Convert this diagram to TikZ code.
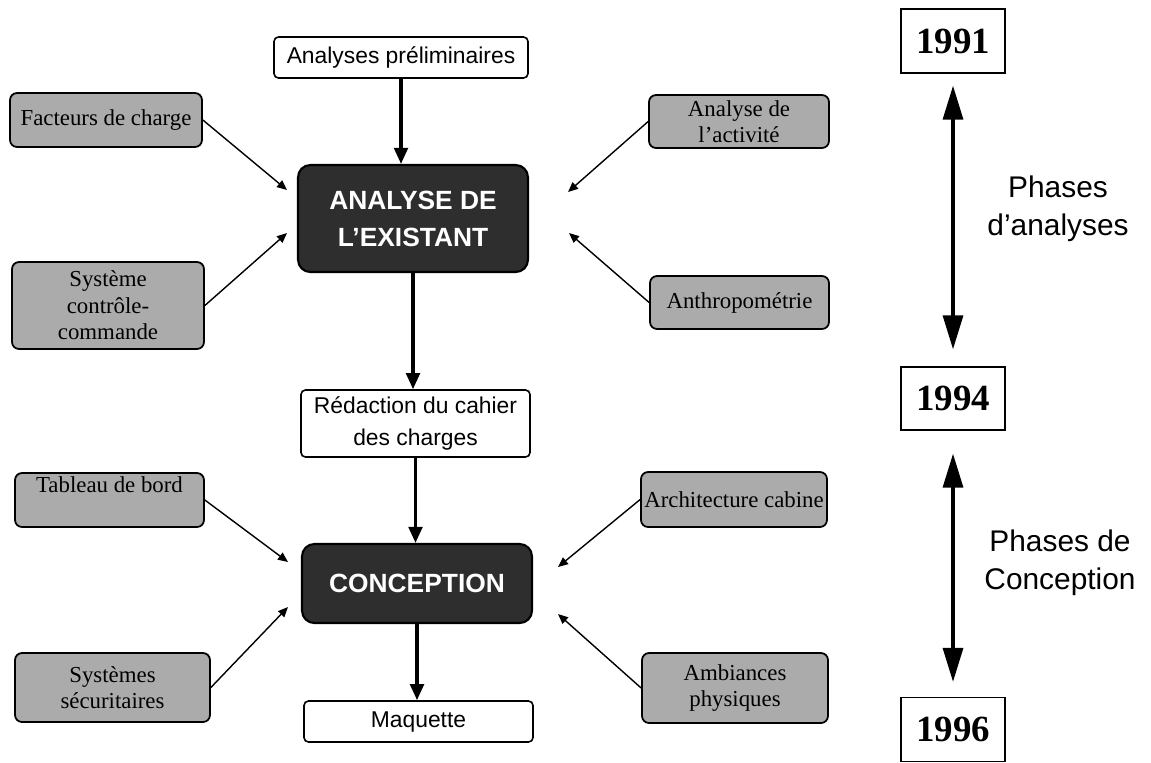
\documentclass[tikz,border=0pt]{standalone}
\usepackage{fontspec}
\setmainfont{Liberation Serif}
\setsansfont{Liberation Sans}
\usetikzlibrary{arrows.meta}

\begin{document}
\begin{tikzpicture}[x = 0.02cm, y = -0.02cm]
	\tikzstyle{whiteStyle} = [draw, line width = 0.9pt, fill = white, rounded corners = 2.5pt, inner sep = 0pt, align = center, font = \sffamily\fontsize{13}{18}\selectfont]
	\tikzstyle{darkStyle} = [draw, line width = 1.2pt, fill = black!82, rounded corners = 7pt, inner sep = 0pt, align = center, text = white, font = \sffamily\bfseries\fontsize{15}{21}\selectfont]
	\tikzstyle{grayStyle} = [draw, line width = 1pt, fill = black!33, rounded corners = 4pt, inner sep = 0pt, align = center, font = \rmfamily\fontsize{13}{15}\selectfont]
	\tikzstyle{yearStyle} = [draw, line width = 0.8pt, fill = white, inner sep = 0pt, minimum width = 2.08cm, minimum height = 1.28cm, font = \rmfamily\bfseries\fontsize{21}{24}\selectfont]
	\tikzstyle{phaseStyle} = [inner sep = 0pt, align = center, font = \sffamily\fontsize{17}{21.5}\selectfont]
	\tikzstyle{mainArrow} = [line width = 1.9pt, -{Triangle[length = 0.32cm, width = 0.27cm]}]
	\tikzstyle{sideArrow} = [line width = 0.8pt, -{Triangle[length = 0.2cm, width = 0.17cm]}]
	\tikzstyle{timeArrow} = [line width = 1.9pt, {Triangle[length = 0.68cm, width = 0.4cm]}-{Triangle[length = 0.68cm, width = 0.4cm]}]
	\useasboundingbox (0,0) rectangle (1151,762);
	% colonne centrale
	\node[whiteStyle, minimum width = 5.08cm, minimum height = 0.82cm] (prelim) at (401,57.5) {Analyses préliminaires};
	\node[darkStyle, minimum width = 4.6cm, minimum height = 2.14cm] (existant) at (413,218.5) {ANALYSE DE\\L’EXISTANT};
	\node[whiteStyle, minimum width = 4.58cm, minimum height = 1.34cm] (redaction) at (415.5,423.5) {Rédaction du cahier\\des charges};
	\node[darkStyle, minimum width = 4.6cm, minimum height = 1.58cm] (conception) at (417,583.5) {CONCEPTION};
	\node[whiteStyle, minimum width = 4.58cm, minimum height = 0.82cm] (maquette) at (418.5,721.5) {Maquette};
	% facteurs
	\node[grayStyle, minimum width = 3.84cm, minimum height = 1.08cm] (facteurs) at (106,120) {Facteurs de charge};
	\node[grayStyle, minimum width = 3.84cm, minimum height = 1.74cm] (systeme) at (108,305.5) {Système\\contrôle-\\commande};
	\node[grayStyle, minimum width = 3.6cm, minimum height = 1.06cm] (activite) at (739,121.5) {Analyse de\\l’activité};
	\node[grayStyle, minimum width = 3.58cm, minimum height = 1.06cm] (anthropo) at (739.5,302.5) {Anthropométrie};
	\node[grayStyle, minimum width = 3.78cm, minimum height = 1.08cm, text depth = 0.62cm] (tableau) at (109.5,500) {Tableau de bord};
	\node[grayStyle, minimum width = 3.9cm, minimum height = 1.38cm] (securite) at (112.5,687.5) {Systèmes\\sécuritaires};
	\node[grayStyle, minimum width = 3.72cm, minimum height = 1.1cm] (architecture) at (734,499.5) {Architecture cabine};
	\node[grayStyle, minimum width = 3.72cm, minimum height = 1.4cm] (ambiances) at (735,688) {Ambiances\\physiques};
	% dates
	\node[yearStyle] (y1991) at (953,41) {1991};
	\node[yearStyle, minimum height = 1.26cm] (y1994) at (953,398.5) {1994};
	\node[yearStyle] (y1996) at (953,729.5) {1996};
	\node[phaseStyle] (phaseA) at (1058,209) {Phases\\d’analyses};
	\node[phaseStyle] (phaseC) at (1060,563) {Phases de\\Conception};
	% pointes des fleches
	\coordinate (tipA1) at (287,190);
	\coordinate (tipA2) at (287,233);
	\coordinate (tipA3) at (568,192);
	\coordinate (tipA4) at (569,233);
	\coordinate (tipC1) at (288,562);
	\coordinate (tipC2) at (288,607);
	\coordinate (tipC3) at (558,567);
	\coordinate (tipC4) at (558,614);
	\draw[mainArrow] (prelim.south) -- (prelim.south |- existant.north);
	\draw[mainArrow] (existant.south) -- (existant.south |- redaction.north);
	\draw[mainArrow] (redaction.south) -- (redaction.south |- conception.north);
	\draw[mainArrow] (conception.south) -- (conception.south |- maquette.north);
	\draw[sideArrow] (facteurs.east) -- (tipA1);
	\draw[sideArrow] (systeme.east) -- (tipA2);
	\draw[sideArrow] (activite.west) -- (tipA3);
	\draw[sideArrow] (anthropo.west) -- (tipA4);
	\draw[sideArrow] (tableau.east) -- (tipC1);
	\draw[sideArrow] (securite.east) -- (tipC2);
	\draw[sideArrow] (architecture.west) -- (tipC3);
	\draw[sideArrow] (ambiances.west) -- (tipC4);
	\draw[timeArrow, shorten < = 0.24cm, shorten > = 0.34cm] (y1991.south) -- (y1994.north);
	\draw[timeArrow, shorten < = 0.46cm, shorten > = 0.3cm] (y1994.south) -- (y1996.north);
\end{tikzpicture}
\end{document}
